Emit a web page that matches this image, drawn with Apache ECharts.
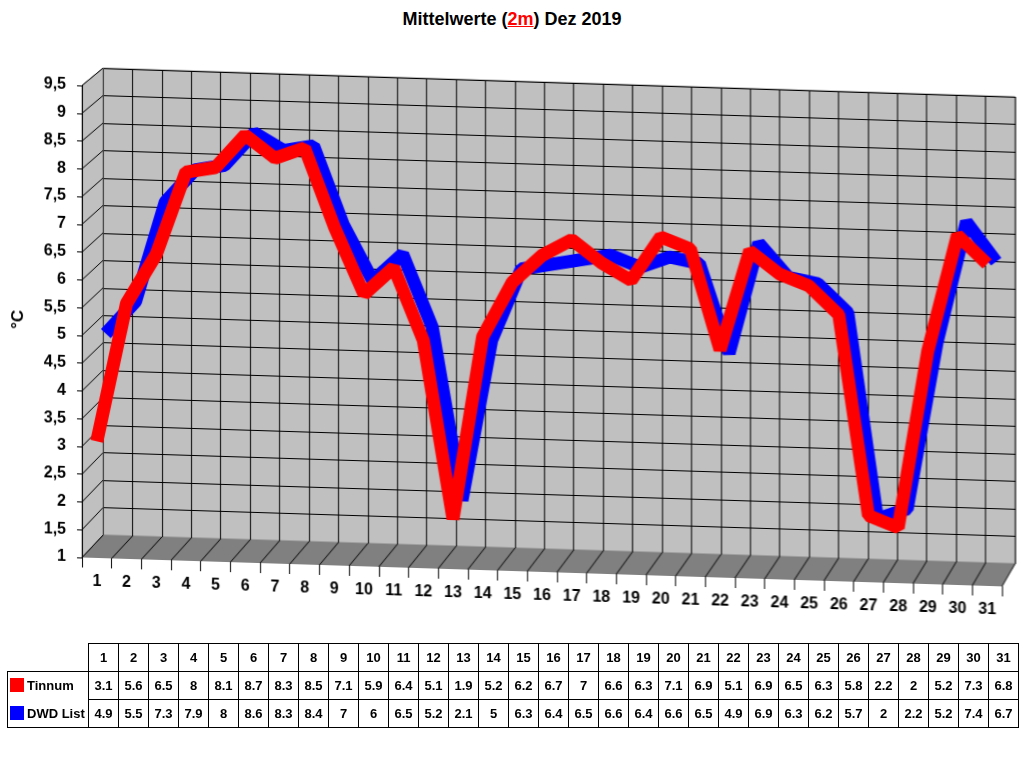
<!DOCTYPE html>
<html>
<head>
<meta charset="utf-8">
<script src="https://cdn.jsdelivr.net/npm/echarts@6/dist/echarts.min.js"></script>
<style>
  body { margin: 0; background: #fff; font-family: "Liberation Sans", Arial, sans-serif; }
  #title { position: absolute; left: 0; top: 9px; width: 1024px; text-align: center;
           font-weight: bold; font-size: 18px; color: #000; }
  #title u { color: #f00; }
  #chart { position: absolute; left: 0; top: 0; width: 1024px; height: 640px;
           transform: skewY(1.8deg); transform-origin: 512px 320px; }
  #tbl { position: absolute; left: 7px; top: 643px; border-collapse: collapse; table-layout: fixed;
         font-weight: bold; font-size: 13px; }
  #tbl td { border: 1px solid #000; text-align: center; padding: 0; height: 27px; width: 29px; }
  #tbl td.lab { width: 80px; text-align: left; white-space: nowrap; font-size: 13px; }
  #tbl td.blank { border: none; }
  #tbl tr.r1 td.lab { border-bottom: none; }
  #tbl tr.r2 td.lab { border-top: none; }
  .key { display: inline-block; width: 14px; height: 14px; vertical-align: -2px; margin: 0 3px 0 2px; }
</style>
</head>
<body>
<div id="title">Mittelwerte (<u>2m</u>) Dez 2019</div>
<div id="chart"></div>
<table id="tbl"></table>
<script>
// Tage im Dezember
const days = ['1','2','3','4','5','6','7','8','9','10','11','12','13','14','15','16',
              '17','18','19','20','21','22','23','24','25','26','27','28','29','30','31'];
// Mittelwerte 2m
const tinnum = [3.1, 5.6, 6.5, 8, 8.1, 8.7, 8.3, 8.5, 7.1, 5.9, 6.4, 5.1, 1.9, 5.2, 6.2, 6.7,
                7, 6.6, 6.3, 7.1, 6.9, 5.1, 6.9, 6.5, 6.3, 5.8, 2.2, 2, 5.2, 7.3, 6.8];
const dwdList = [4.9, 5.5, 7.3, 7.9, 8, 8.6, 8.3, 8.4, 7, 6, 6.5, 5.2, 2.1, 5, 6.3, 6.4,
                 6.5, 6.6, 6.4, 6.6, 6.5, 4.9, 6.9, 6.3, 6.2, 5.7, 2, 2.2, 5.2, 7.4, 6.7];
const seriesNames = ['Tinnum', 'DWD List'];
const seriesColors = ['#ff0000', '#0000ff'];
const yMin = 1, yMax = 9.5, yStep = 0.5;

const chart = echarts.init(document.getElementById('chart'));

const fmt = v => String(v).replace('.', ',');

const option = {
    animation: false,
    grid: [
        // vorne (Tinnum + Achsen)
        { left: 82, right: 22, top: 99, bottom: 69 },
        // dahinter (DWD)
        { left: 91, right: 13, top: 91, bottom: 77 },
        // Rückwand
        { left: 103, right: 9, top: 81, bottom: 92, show: true,
          backgroundColor: '#c0c0c0', borderColor: '#808080', borderWidth: 1 }
    ],
    xAxis: [
        { gridIndex: 0, type: 'category', data: days, z: 5,
          axisLine: { show: false },
          axisTick: { show: true, length: 10, lineStyle: { color: '#000' } },
          axisLabel: { margin: 16, color: '#000', fontWeight: 'bold', fontSize: 16,
                       fontFamily: 'Liberation Sans', interval: 0 },
          splitLine: { show: false } },
        { gridIndex: 1, type: 'category', data: days, show: false },
        { gridIndex: 2, type: 'category', data: days,
          axisLine: { show: false }, axisTick: { show: false }, axisLabel: { show: false },
          splitLine: { show: true, interval: 0, lineStyle: { color: '#000', width: 1 } } }
    ],
    yAxis: [
        { gridIndex: 0, type: 'value', min: yMin, max: yMax, interval: yStep, z: 5,
          name: '°C', nameLocation: 'middle', nameGap: 55, nameRotate: 90,
          nameTextStyle: { color: '#000', fontWeight: 'bold', fontSize: 17, fontFamily: 'Liberation Sans' },
          axisLine: { show: true, lineStyle: { color: '#000' } },
          axisTick: { show: true, length: 5, lineStyle: { color: '#000' } },
          axisLabel: { formatter: fmt, margin: 16, color: '#000', fontWeight: 'bold', fontSize: 16,
                       fontFamily: 'Liberation Sans' },
          splitLine: { show: false } },
        { gridIndex: 1, type: 'value', min: yMin, max: yMax, interval: yStep, show: false,
          splitLine: { show: false } },
        { gridIndex: 2, type: 'value', min: yMin, max: yMax, interval: yStep,
          axisLine: { show: false }, axisTick: { show: false }, axisLabel: { show: false },
          splitLine: { show: true, lineStyle: { color: '#000', width: 1 } } }
    ],
    series: [
        { name: seriesNames[1], type: 'line', xAxisIndex: 1, yAxisIndex: 1, data: dwdList,
          symbol: 'none', z: 3, lineStyle: { color: seriesColors[1], width: 13, join: 'bevel' } },
        { name: seriesNames[0], type: 'line', xAxisIndex: 0, yAxisIndex: 0, data: tinnum,
          symbol: 'none', z: 4, lineStyle: { color: seriesColors[0], width: 13, join: 'bevel' } }
    ]
};
chart.setOption(option);

// Boden und Seitenwand aus den Achsen ableiten
function px(i, x, y) { return chart.convertToPixel({ xAxisIndex: i, yAxisIndex: i }, [x, y]); }
const fBand = px(0, 1, yMin)[0] - px(0, 0, yMin)[0];
const bBand = px(2, 1, yMin)[0] - px(2, 0, yMin)[0];
const fx = i => px(0, 0, yMin)[0] + (i - 0.5) * fBand;
const bx = i => px(2, 0, yMin)[0] + (i - 0.5) * bBand;
const fy = v => px(0, 0, v)[1];
const by = v => px(2, 0, v)[1];
const n = days.length;

const graphics = [];
// Boden
graphics.push({ type: 'polygon', z: 1, silent: true,
    shape: { points: [[fx(0), fy(yMin)], [fx(n), fy(yMin)], [bx(n), by(yMin)], [bx(0), by(yMin)]] },
    style: { fill: '#808080' } });
for (let i = 0; i <= n; i++) {
    graphics.push({ type: 'line', z: 1, silent: true,
        shape: { x1: fx(i), y1: fy(yMin), x2: bx(i), y2: by(yMin) },
        style: { stroke: '#000', lineWidth: 1 } });
}
// Seitenwand
graphics.push({ type: 'polygon', z: 1, silent: true,
    shape: { points: [[fx(0), fy(yMax)], [bx(0), by(yMax)], [bx(0), by(yMin)], [fx(0), fy(yMin)]] },
    style: { fill: '#c0c0c0', stroke: '#808080', lineWidth: 1 } });
for (let v = yMin; v <= yMax + 1e-9; v += yStep) {
    graphics.push({ type: 'line', z: 1, silent: true,
        shape: { x1: fx(0), y1: fy(v), x2: bx(0), y2: by(v) },
        style: { stroke: '#000', lineWidth: 1 } });
}
chart.setOption({ graphic: graphics });

// Datentabelle
const tbl = document.getElementById('tbl');
let html = '<tr><td class="lab blank"></td>' + days.map(d => '<td>' + d + '</td>').join('') + '</tr>';
[tinnum, dwdList].forEach((arr, k) => {
    html += '<tr class="r' + (k + 1) + '"><td class="lab"><span class="key" style="background:' +
        seriesColors[k] + '"></span>' + seriesNames[k] + '</td>' +
        arr.map(v => '<td>' + v + '</td>').join('') + '</tr>';
});
tbl.innerHTML = html;
</script>
</body>
</html>
